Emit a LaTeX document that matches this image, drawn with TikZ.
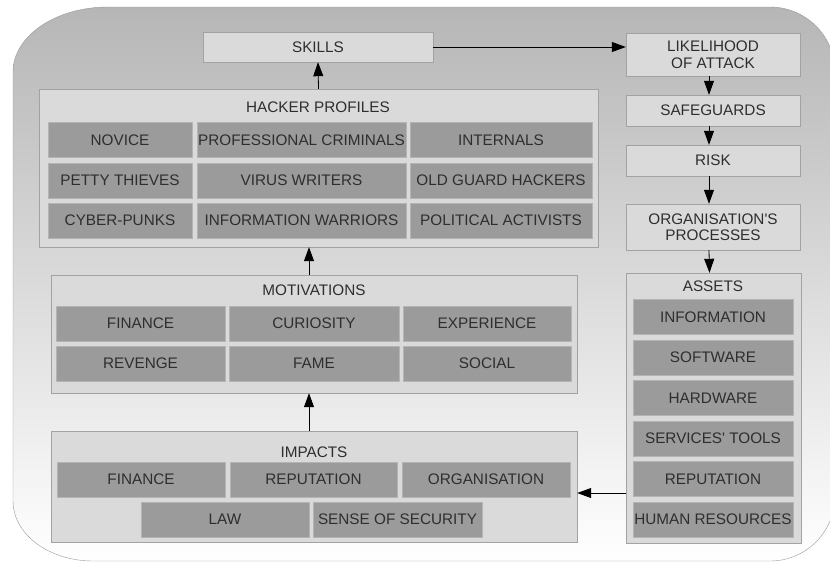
\documentclass[tikz,border=0pt]{standalone}
\usepackage{fontspec}
\setmainfont{Liberation Sans}
\usepackage{xcolor}
\usepackage{tikz}
\usetikzlibrary{positioning,shapes,arrows.meta}

\definecolor{panelgray}{HTML}{DADADA}
\definecolor{itemgray}{HTML}{9B9B9B}
\definecolor{itemedge}{HTML}{B4B4B4}
\definecolor{edgegray}{HTML}{A2A2A2}
\definecolor{textgray}{HTML}{2E2E2E}
\definecolor{bgtop}{HTML}{B6B6B6}

\begin{document}
\begin{tikzpicture}[x=1pt, y=-1pt,
    font=\fontsize{15.3}{16.5}\selectfont,
    panel/.style={rectangle, draw=edgegray, fill=panelgray, inner sep=0pt},
    item/.style={rectangle, draw=itemedge, fill=itemgray, text=textgray, inner sep=0pt, minimum height=35pt},
    stepbox/.style={rectangle, draw=edgegray, fill=panelgray, text=textgray, inner sep=0pt, minimum width=174pt, align=center},
    title/.style={text=textgray, inner sep=0pt},
    link/.style={-{Triangle[length=14pt,width=10pt]}, black, line width=0.8pt}]

    % 背景
    \useasboundingbox (0,0) rectangle (830,563);
    \shade[top color=bgtop, bottom color=white, draw=gray!80]
        (13,72) arc[start angle=180, end angle=270, x radius=95, y radius=65]
        -- (770,7) arc[start angle=270, end angle=360, radius=65]
        -- (835,496) arc[start angle=0, end angle=90, radius=65]
        -- (93,561) arc[start angle=90, end angle=180, x radius=80, y radius=60]
        -- cycle;

    % 右側の流れ
    \node [stepbox, minimum width=230pt, minimum height=30pt] (skills) at (318,47) {SKILLS};
    \node [stepbox, minimum height=43pt] (likely) at (713,54.5) {LIKELIHOOD\\OF ATTACK};
    \node [stepbox, minimum height=31pt] (safe) at (713,110.5) {SAFEGUARDS};
    \node [stepbox, minimum height=31pt] (risk) at (713,160.5) {RISK};
    \node [stepbox, minimum height=46pt] (procs) at (713,227) {ORGANISATION\textquotesingle S\\PROCESSES};

    % ASSETS
    \node [panel, minimum width=175pt, minimum height=270pt] (assets) at (713.5,408) {};
    \node [title] (assetstitle) at (713,286) {ASSETS};
    \node [item, minimum width=160pt] (info) at (713,317) {INFORMATION};
    \node [item, minimum width=160pt] (soft) at (713,357.5) {SOFTWARE};
    \node [item, minimum width=160pt] (hard) at (713,398) {HARDWARE};
    \node [item, minimum width=160pt] (tools) at (713,438.5) {SERVICES\textquotesingle\ TOOLS};
    \node [item, minimum width=160pt] (arep) at (713,479) {REPUTATION};
    \node [item, minimum width=160pt] (human) at (713,519.5) {HUMAN RESOURCES};

    % HACKER PROFILES
    \node [panel, minimum width=559pt, minimum height=158pt] (profiles) at (318.5,168) {};
    \node [title] (proftitle) at (318,107) {HACKER PROFILES};
    \node [item, minimum width=144pt] (novice) at (120,140) {NOVICE};
    \node [item, minimum width=209pt] (crim) at (301.5,140) {PROFESSIONAL CRIMINALS};
    \node [item, minimum width=182pt] (intern) at (501,140) {INTERNALS};
    \node [item, minimum width=144pt] (petty) at (120,180.5) {PETTY THIEVES};
    \node [item, minimum width=209pt] (virus) at (301.5,180.5) {VIRUS WRITERS};
    \node [item, minimum width=182pt] (oldguard) at (501,180.5) {OLD GUARD HACKERS};
    \node [item, minimum width=144pt] (punks) at (120,220.5) {CYBER-PUNKS};
    \node [item, minimum width=209pt] (warriors) at (301.5,220.5) {INFORMATION WARRIORS};
    \node [item, minimum width=182pt] (activists) at (501,220.5) {POLITICAL ACTIVISTS};

    % MOTIVATIONS
    \node [panel, minimum width=526pt, minimum height=118pt] (motiv) at (314,334) {};
    \node [title] (motivtitle) at (314,290) {MOTIVATIONS};
    \node [item, minimum width=169pt] (mfin) at (140.5,323.5) {FINANCE};
    \node [item, minimum width=170pt] (curio) at (314,323.5) {CURIOSITY};
    \node [item, minimum width=168pt] (exper) at (487,323.5) {EXPERIENCE};
    \node [item, minimum width=169pt] (reven) at (140.5,363.5) {REVENGE};
    \node [item, minimum width=170pt] (fame) at (314,363.5) {FAME};
    \node [item, minimum width=168pt] (social) at (487,363.5) {SOCIAL};

    % IMPACTS
    \node [panel, minimum width=526pt, minimum height=111pt] (impacts) at (314,486.5) {};
    \node [title] (imptitle) at (314,452) {IMPACTS};
    \node [item, minimum width=168pt] (ifin) at (141,479.5) {FINANCE};
    \node [item, minimum width=167pt] (irep) at (313.5,479.5) {REPUTATION};
    \node [item, minimum width=168pt] (iorg) at (486,479.5) {ORGANISATION};
    \node [item, minimum width=168pt] (law) at (225,519.5) {LAW};
    \node [item, minimum width=169pt] (sense) at (397.5,519.5) {SENSE OF SECURITY};

    % エッジ
    \draw [link] (profiles.north) -- (skills.south);
    \draw [link] (skills.east) -- (skills.east -| likely.west);
    \draw [link] ([xshift=-4pt]likely.south) -- ([xshift=-4pt]safe.north);
    \draw [link] ([xshift=-4pt]safe.south) -- ([xshift=-4pt]risk.north);
    \draw [link] ([xshift=-4pt]risk.south) -- ([xshift=-4pt]procs.north);
    \draw [link] ([xshift=-4pt]procs.south) -- ([xshift=-4pt]assets.north);
    \draw [link] ([xshift=-5pt]motiv.north) -- ([xshift=-5pt]motiv.north |- profiles.south);
    \draw [link] ([xshift=-5pt]impacts.north) -- ([xshift=-5pt]impacts.north |- motiv.south);
    \draw [link] ([yshift=-85pt]assets.west) -- ([yshift=-85pt]assets.west -| impacts.east);
\end{tikzpicture}
\end{document}
